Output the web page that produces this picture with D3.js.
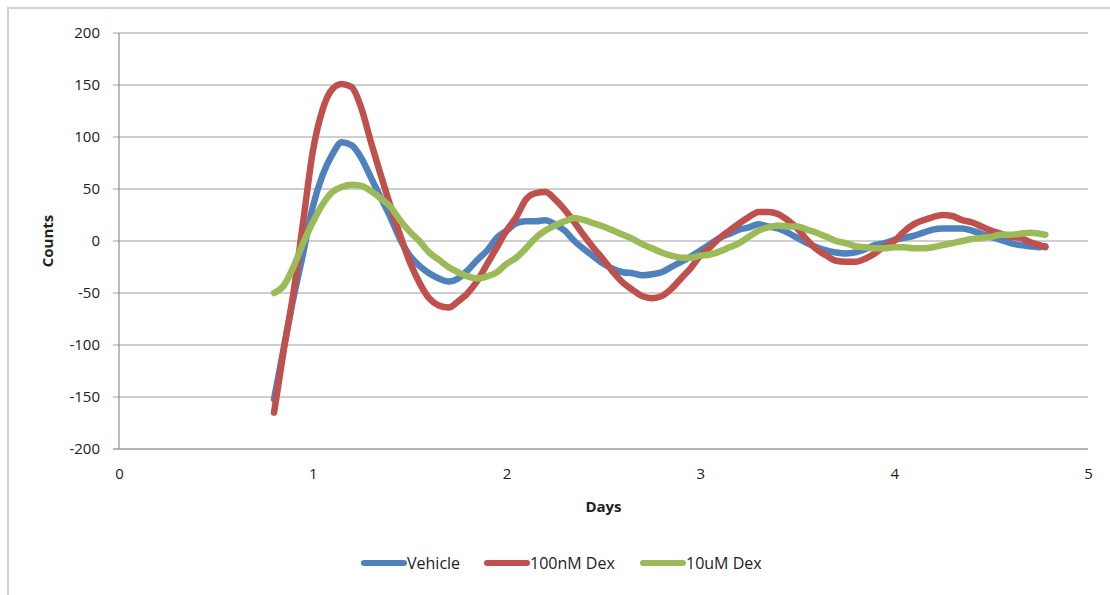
<!DOCTYPE html>
<head>
  <meta charset="utf-8">
  <style>
    body { margin: 0; background: #fff; }
    text { font-family: "Open Sans", "Lato", sans-serif; fill: #222; }
  </style>
<title>Counts by Days</title>
</head>

<body>
  <script src="https://cdn.jsdelivr.net/npm/d3@7/dist/d3.min.js"></script>
  <script>
    // sample times (days)
    const days = [0.80,0.85,0.90,0.95,1.00,1.05,1.10,1.15,1.20,1.25,1.30,1.35,1.40,1.45,1.50,1.55,1.60,1.65,1.70,1.75,
      1.80,1.85,1.90,1.95,2.00,2.05,2.10,2.15,2.20,2.25,2.30,2.35,2.40,2.45,2.50,2.55,2.60,2.65,2.70,2.75,
      2.80,2.85,2.90,2.95,3.00,3.05,3.10,3.15,3.20,3.25,3.30,3.35,3.40,3.45,3.50,3.55,3.60,3.65,3.70,3.75,
      3.80,3.85,3.90,3.95,4.00,4.05,4.10,4.15,4.20,4.25,4.30,4.35,4.40,4.45,4.50,4.55,4.60,4.65,4.70,4.75,4.78];

    const vehicle = [-152,-103,-55,-12,33,63,83,95,92,80,61,42,23,2,-14,-24,-31,-36,-39,-36,
      -28,-18,-9,3,10,17,19,19,20,16,10,0,-8,-15,-22,-27,-30,-31,-33,-32,
      -30,-25,-20,-15,-9,-3,3,7,11,13,16,14,12,8,3,-2,-6,-9,-11,-12,
      -11,-8,-4,-2,1,3,5,8,11,12,12,12,10,7,4,1,-2,-4,-5,-6,-5];

    const dex100nM = [-165,-105,-50,18,86,126,146,151,148,128,95,64,34,6,-20,-40,-55,-62,-64,-58,
      -50,-38,-22,-6,10,23,40,46,47,40,30,18,5,-7,-18,-30,-40,-47,-53,-55,
      -53,-46,-36,-26,-14,-6,3,10,17,23,28,28,26,20,12,1,-8,-14,-19,-20,
      -20,-17,-12,-5,0,9,16,20,23,25,24,20,18,14,10,7,4,3,-1,-4,-6];

    const dex10uM = [-50,-43,-25,-2,18,35,47,52,54,53,48,41,33,20,9,0,-11,-18,-25,-30,
      -34,-36,-34,-30,-22,-16,-7,3,10,15,19,22,20,17,14,10,6,2,-3,-7,
      -11,-14,-16,-16,-14,-13,-10,-6,-2,4,10,13,15,14,14,11,8,4,0,-2,
      -5,-6,-7,-7,-6,-6,-7,-7,-6,-4,-2,0,2,3,4,6,6,7,8,7,6];

    const seriesNames = ["Vehicle", "100nM Dex", "10uM Dex"];
    const seriesColors = ["#4F81BD", "#C0504D", "#9BBB59"];
    const xTicks = [0, 1, 2, 3, 4, 5];
    const yTicks = [-200, -150, -100, -50, 0, 50, 100, 150, 200];

    const W = 1110, H = 595;
    const margin = {top: 33, right: 22, bottom: 146, left: 119};
    const width = W - margin.left - margin.right;
    const height = H - margin.top - margin.bottom;

    const x = d3.scaleLinear().domain([0, 5]).range([0, width]);
    const y = d3.scaleLinear().domain([-200, 200]).range([height, 0]);

    const svgRoot = d3.select("body").append("svg")
      .attr("width", W)
      .attr("height", H);

    // outer chart frame
    svgRoot.append("rect")
      .attr("x", 8).attr("y", 8)
      .attr("width", W + 20).attr("height", H + 20)
      .attr("fill", "none")
      .attr("stroke", "#d2d2d2")
      .attr("stroke-width", 2);

    const svg = svgRoot.append("g")
      .attr("transform", "translate(" + margin.left + "," + margin.top + ")");

    // horizontal gridlines (with little tick stubs to the left)
    svg.append("g")
      .selectAll("line")
      .data(yTicks)
      .enter().append("line")
      .attr("x1", -6)
      .attr("x2", width)
      .attr("y1", d => y(d))
      .attr("y2", d => y(d))
      .attr("stroke", d => d === -200 ? "#9a9a9a" : "#cfcfcf")
      .attr("stroke-width", d => d === -200 ? 1.5 : 2);

    // y axis line
    svg.append("line")
      .attr("x1", 0).attr("x2", 0)
      .attr("y1", y(200)).attr("y2", y(-200))
      .attr("stroke", "#8c8c8c")
      .attr("stroke-width", 1.2);

    // Y tick labels
    const yAxis = svg.append("g")
      .call(d3.axisLeft(y).tickValues(yTicks).tickFormat(d => String(d)).tickSize(0).tickPadding(19));
    yAxis.select(".domain").remove();
    yAxis.selectAll("text").style("font-size", "15px").style("fill", "#222");

    // X tick labels
    const xAxis = svg.append("g")
      .attr("transform", "translate(0," + height + ")")
      .call(d3.axisBottom(x).tickValues(xTicks).tickFormat(d => String(d)).tickSize(0).tickPadding(19));
    xAxis.select(".domain").remove();
    xAxis.selectAll("text").style("font-size", "15px").style("fill", "#222");

    // series lines
    const line = d3.line()
      .x((d, i) => x(days[i]))
      .y(d => y(d))
      .curve(d3.curveMonotoneX);

    [vehicle, dex100nM, dex10uM].forEach(function (vals, k) {
      svg.append("path")
        .datum(vals)
        .attr("fill", "none")
        .attr("stroke", seriesColors[k])
        .attr("stroke-width", 6.5)
        .attr("stroke-linejoin", "round")
        .attr("stroke-linecap", "round")
        .attr("d", line);
    });

    // axis titles
    svgRoot.append("text")
      .attr("transform", "translate(53," + (margin.top + y(0)) + ") rotate(-90)")
      .style("text-anchor", "middle")
      .style("font-size", "15px")
      .style("font-weight", "bold")
      .text("Counts");

    svgRoot.append("text")
      .attr("x", margin.left + x(2.5))
      .attr("y", 512)
      .style("text-anchor", "middle")
      .style("font-size", "15px")
      .style("font-weight", "bold")
      .text("Days");

    // legend
    const legendX = [364, 487, 643];
    const legend = svgRoot.append("g");
    seriesNames.forEach(function (name, k) {
      legend.append("line")
        .attr("x1", legendX[k]).attr("x2", legendX[k] + 40)
        .attr("y1", 563).attr("y2", 563)
        .attr("stroke", seriesColors[k])
        .attr("stroke-width", 6)
        .attr("stroke-linecap", "round");
      legend.append("text")
        .attr("x", legendX[k] + 43)
        .attr("y", 569)
        .style("font-size", "16px")
        .text(name);
    });
  </script>
</body>
